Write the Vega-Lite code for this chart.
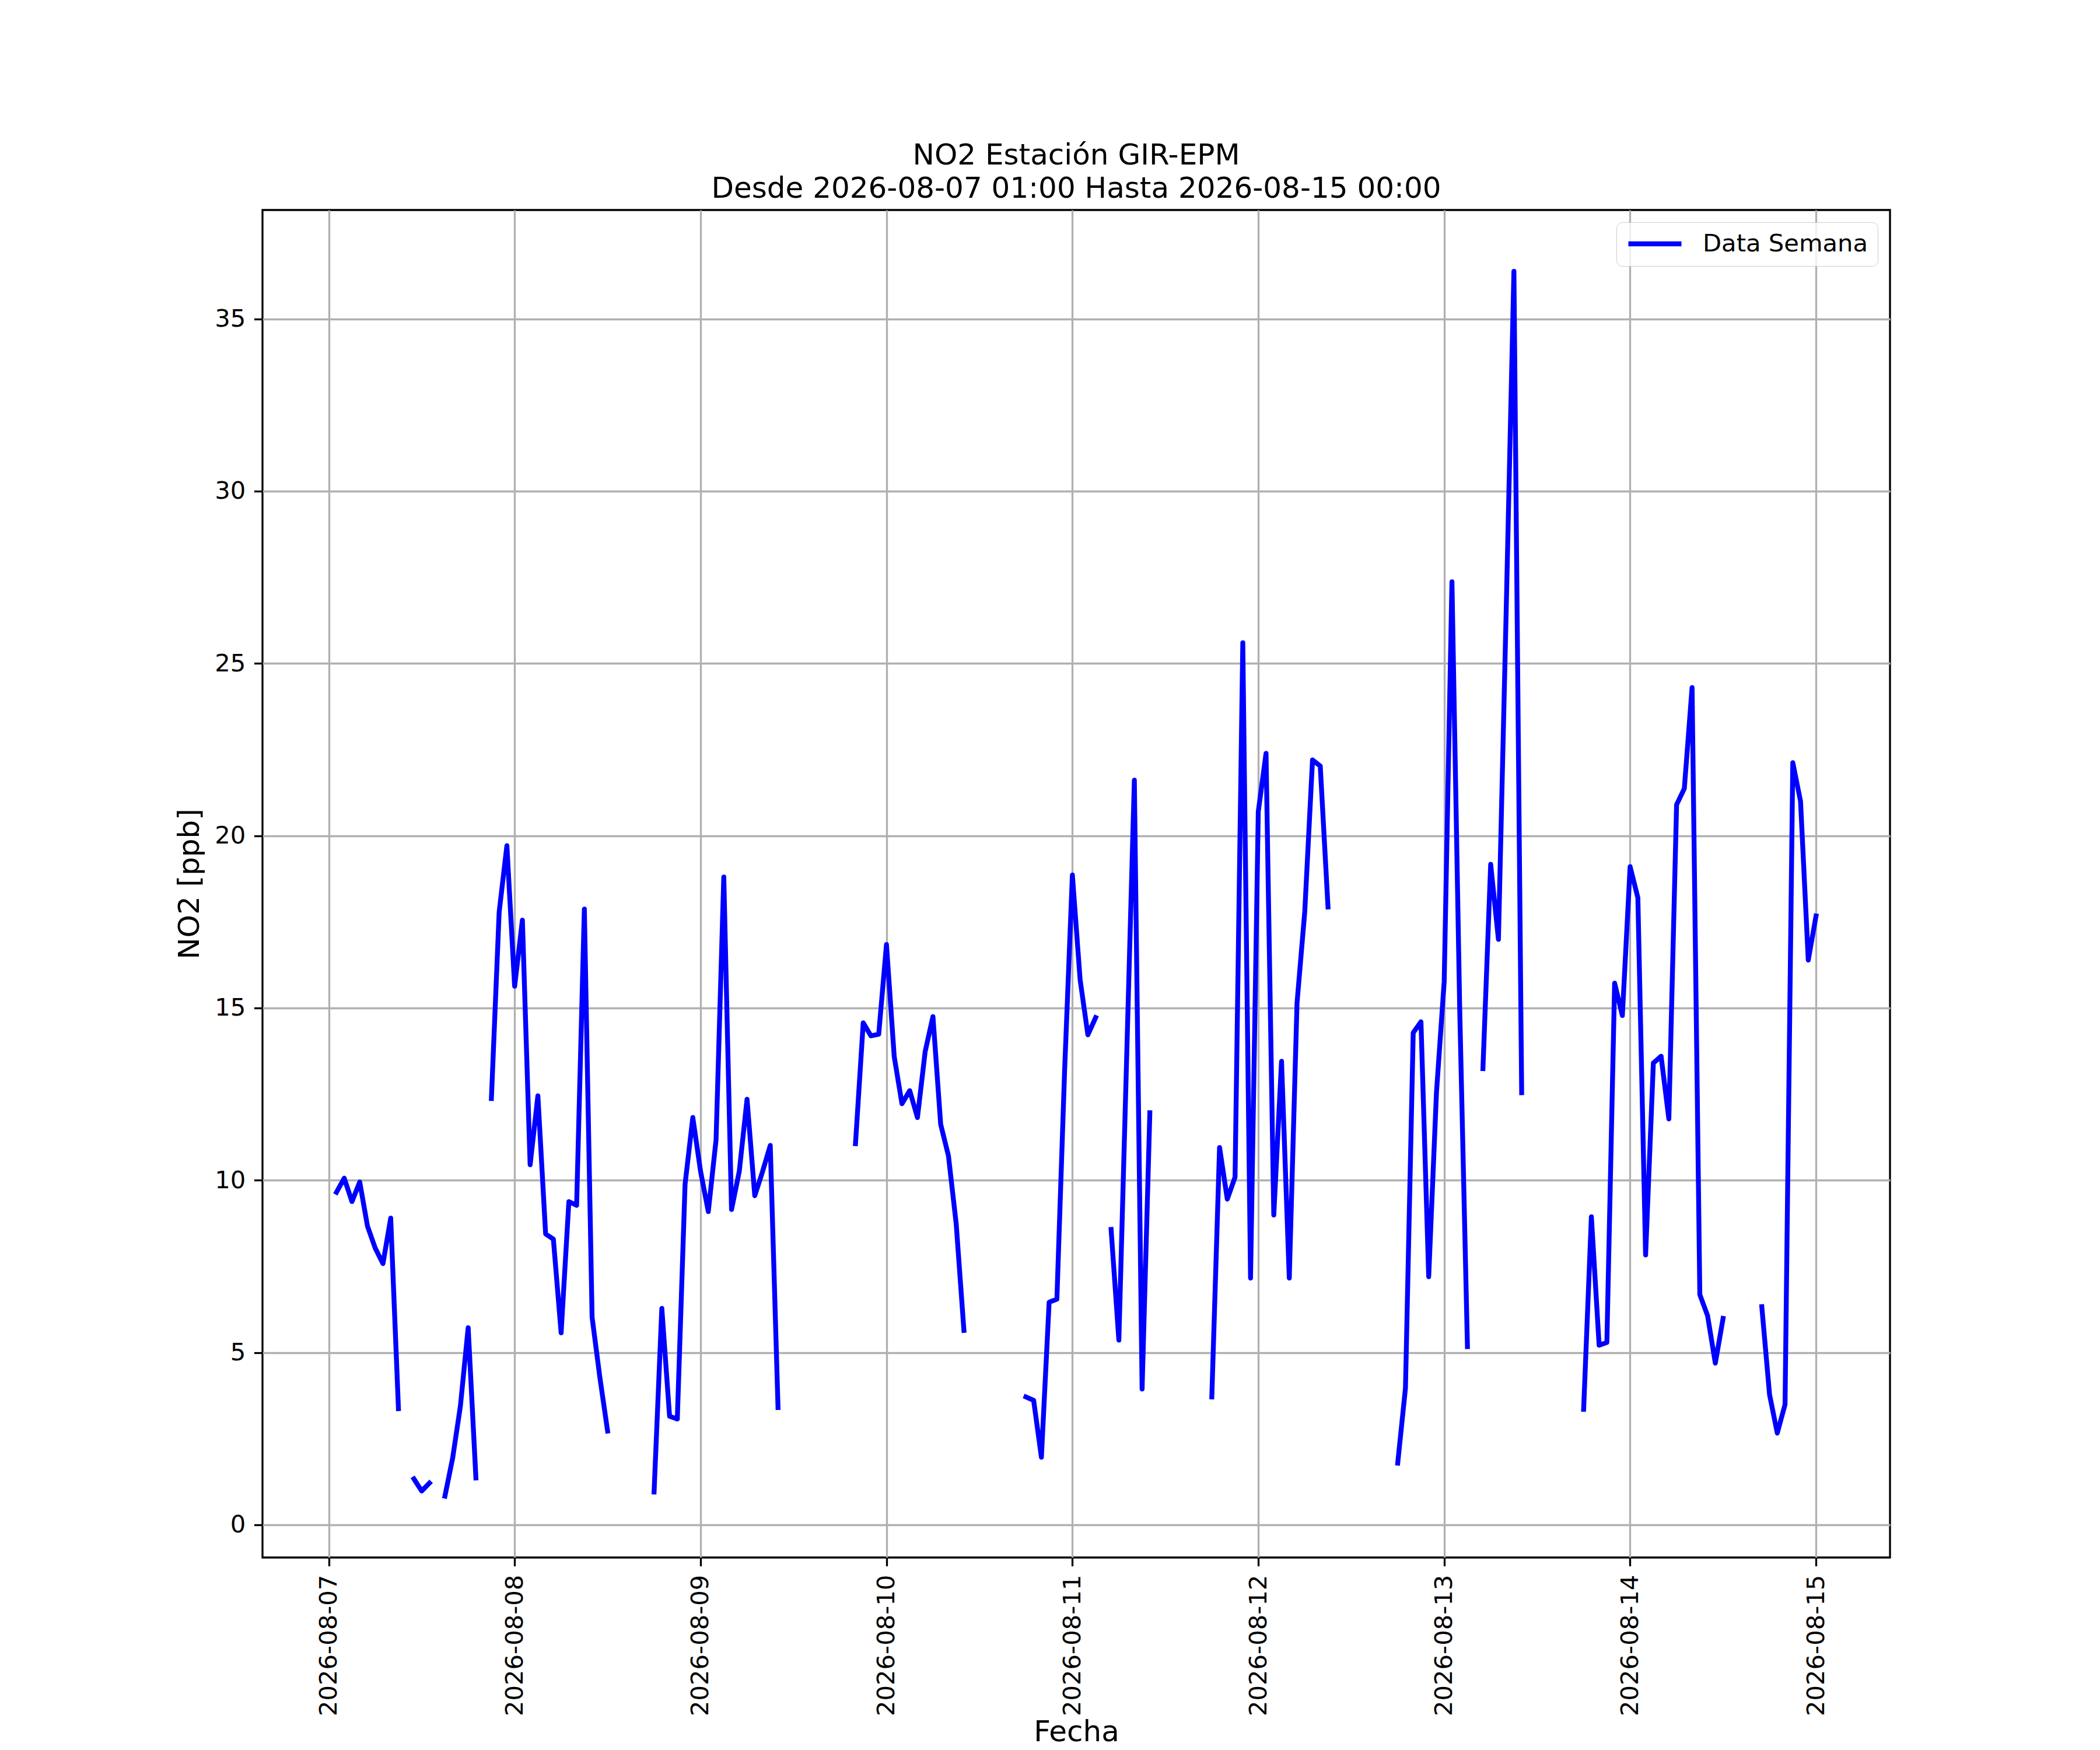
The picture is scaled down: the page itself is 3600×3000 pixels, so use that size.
{
  "$schema": "https://vega.github.io/schema/vega-lite/v6.json",
  "autosize": {"type": "none"},
  "width": 2790,
  "height": 2310,
  "padding": {"left": 450, "top": 360, "right": 360, "bottom": 330},
  "background": "white",
  "title": {
    "text": ["NO2 Estación GIR-EPM", "Desde 2026-08-07 01:00 Hasta 2026-08-15 00:00"],
    "anchor": "middle",
    "offset": 11,
    "lineHeight": 57
  },
  "config": {
    "font": "DejaVu Sans",
    "view": {"stroke": "black", "strokeWidth": 3.3},
    "title": {"font": "DejaVu Sans", "fontSize": 50, "fontWeight": "normal", "color": "black"},
    "axis": {
      "labelFont": "DejaVu Sans", "labelFontSize": 41.7, "labelColor": "black", "labelLimit": 0,
      "titleFont": "DejaVu Sans", "titleFontSize": 50, "titleFontWeight": "normal", "titleColor": "black",
      "tickColor": "black", "tickSize": 14.6, "tickWidth": 3.3, "labelPadding": 14.6,
      "gridColor": "#b0b0b0", "gridWidth": 3.3, "domain": false
    }
  },
  "data": {
    "values": [
      {"t": "2026-08-07 01:00", "no2": 9.65},
      {"t": "2026-08-07 02:00", "no2": 10.06},
      {"t": "2026-08-07 03:00", "no2": 9.38},
      {"t": "2026-08-07 04:00", "no2": 9.95},
      {"t": "2026-08-07 05:00", "no2": 8.67},
      {"t": "2026-08-07 06:00", "no2": 8.03},
      {"t": "2026-08-07 07:00", "no2": 7.58},
      {"t": "2026-08-07 08:00", "no2": 8.9},
      {"t": "2026-08-07 09:00", "no2": 3.37},
      {"t": "2026-08-07 10:00", "no2": null},
      {"t": "2026-08-07 11:00", "no2": 1.33},
      {"t": "2026-08-07 12:00", "no2": 0.98},
      {"t": "2026-08-07 13:00", "no2": 1.21},
      {"t": "2026-08-07 14:00", "no2": null},
      {"t": "2026-08-07 15:00", "no2": 0.83},
      {"t": "2026-08-07 16:00", "no2": 1.94},
      {"t": "2026-08-07 17:00", "no2": 3.45},
      {"t": "2026-08-07 18:00", "no2": 5.72},
      {"t": "2026-08-07 19:00", "no2": 1.36},
      {"t": "2026-08-07 20:00", "no2": null},
      {"t": "2026-08-07 21:00", "no2": 12.37},
      {"t": "2026-08-07 22:00", "no2": 17.78},
      {"t": "2026-08-07 23:00", "no2": 19.71},
      {"t": "2026-08-08 00:00", "no2": 15.63},
      {"t": "2026-08-08 01:00", "no2": 17.55},
      {"t": "2026-08-08 02:00", "no2": 10.45},
      {"t": "2026-08-08 03:00", "no2": 12.45},
      {"t": "2026-08-08 04:00", "no2": 8.44},
      {"t": "2026-08-08 05:00", "no2": 8.29},
      {"t": "2026-08-08 06:00", "no2": 5.57},
      {"t": "2026-08-08 07:00", "no2": 9.38},
      {"t": "2026-08-08 08:00", "no2": 9.27},
      {"t": "2026-08-08 09:00", "no2": 17.87},
      {"t": "2026-08-08 10:00", "no2": 6.02},
      {"t": "2026-08-08 11:00", "no2": 4.28},
      {"t": "2026-08-08 12:00", "no2": 2.72},
      {"t": "2026-08-08 13:00", "no2": null},
      {"t": "2026-08-08 14:00", "no2": null},
      {"t": "2026-08-08 15:00", "no2": null},
      {"t": "2026-08-08 16:00", "no2": null},
      {"t": "2026-08-08 17:00", "no2": null},
      {"t": "2026-08-08 18:00", "no2": 0.95},
      {"t": "2026-08-08 19:00", "no2": 6.28},
      {"t": "2026-08-08 20:00", "no2": 3.15},
      {"t": "2026-08-08 21:00", "no2": 3.07},
      {"t": "2026-08-08 22:00", "no2": 9.88},
      {"t": "2026-08-08 23:00", "no2": 11.82},
      {"t": "2026-08-09 00:00", "no2": 10.26},
      {"t": "2026-08-09 01:00", "no2": 9.09},
      {"t": "2026-08-09 02:00", "no2": 11.17},
      {"t": "2026-08-09 03:00", "no2": 18.8},
      {"t": "2026-08-09 04:00", "no2": 9.15},
      {"t": "2026-08-09 05:00", "no2": 10.26},
      {"t": "2026-08-09 06:00", "no2": 12.35},
      {"t": "2026-08-09 07:00", "no2": 9.55},
      {"t": "2026-08-09 08:00", "no2": 10.25},
      {"t": "2026-08-09 09:00", "no2": 11.01},
      {"t": "2026-08-09 10:00", "no2": 3.4},
      {"t": "2026-08-09 11:00", "no2": null},
      {"t": "2026-08-09 12:00", "no2": null},
      {"t": "2026-08-09 13:00", "no2": null},
      {"t": "2026-08-09 14:00", "no2": null},
      {"t": "2026-08-09 15:00", "no2": null},
      {"t": "2026-08-09 16:00", "no2": null},
      {"t": "2026-08-09 17:00", "no2": null},
      {"t": "2026-08-09 18:00", "no2": null},
      {"t": "2026-08-09 19:00", "no2": null},
      {"t": "2026-08-09 20:00", "no2": 11.06},
      {"t": "2026-08-09 21:00", "no2": 14.57},
      {"t": "2026-08-09 22:00", "no2": 14.19},
      {"t": "2026-08-09 23:00", "no2": 14.24},
      {"t": "2026-08-10 00:00", "no2": 16.84},
      {"t": "2026-08-10 01:00", "no2": 13.59},
      {"t": "2026-08-10 02:00", "no2": 12.22},
      {"t": "2026-08-10 03:00", "no2": 12.6},
      {"t": "2026-08-10 04:00", "no2": 11.82},
      {"t": "2026-08-10 05:00", "no2": 13.74},
      {"t": "2026-08-10 06:00", "no2": 14.75},
      {"t": "2026-08-10 07:00", "no2": 11.62},
      {"t": "2026-08-10 08:00", "no2": 10.71},
      {"t": "2026-08-10 09:00", "no2": 8.74},
      {"t": "2026-08-10 10:00", "no2": 5.64},
      {"t": "2026-08-10 11:00", "no2": null},
      {"t": "2026-08-10 12:00", "no2": null},
      {"t": "2026-08-10 13:00", "no2": null},
      {"t": "2026-08-10 14:00", "no2": null},
      {"t": "2026-08-10 15:00", "no2": null},
      {"t": "2026-08-10 16:00", "no2": null},
      {"t": "2026-08-10 17:00", "no2": null},
      {"t": "2026-08-10 18:00", "no2": 3.71},
      {"t": "2026-08-10 19:00", "no2": 3.61},
      {"t": "2026-08-10 20:00", "no2": 1.96},
      {"t": "2026-08-10 21:00", "no2": 6.46},
      {"t": "2026-08-10 22:00", "no2": 6.55},
      {"t": "2026-08-10 23:00", "no2": 13.2},
      {"t": "2026-08-11 00:00", "no2": 18.86},
      {"t": "2026-08-11 01:00", "no2": 15.82},
      {"t": "2026-08-11 02:00", "no2": 14.22},
      {"t": "2026-08-11 03:00", "no2": 14.72},
      {"t": "2026-08-11 04:00", "no2": null},
      {"t": "2026-08-11 05:00", "no2": 8.57},
      {"t": "2026-08-11 06:00", "no2": 5.36},
      {"t": "2026-08-11 07:00", "no2": 13.5},
      {"t": "2026-08-11 08:00", "no2": 21.61},
      {"t": "2026-08-11 09:00", "no2": 3.94},
      {"t": "2026-08-11 10:00", "no2": 11.96},
      {"t": "2026-08-11 11:00", "no2": null},
      {"t": "2026-08-11 12:00", "no2": null},
      {"t": "2026-08-11 13:00", "no2": null},
      {"t": "2026-08-11 14:00", "no2": null},
      {"t": "2026-08-11 15:00", "no2": null},
      {"t": "2026-08-11 16:00", "no2": null},
      {"t": "2026-08-11 17:00", "no2": null},
      {"t": "2026-08-11 18:00", "no2": 3.71},
      {"t": "2026-08-11 19:00", "no2": 10.95},
      {"t": "2026-08-11 20:00", "no2": 9.45},
      {"t": "2026-08-11 21:00", "no2": 10.09},
      {"t": "2026-08-11 22:00", "no2": 25.6},
      {"t": "2026-08-11 23:00", "no2": 7.16},
      {"t": "2026-08-12 00:00", "no2": 20.7},
      {"t": "2026-08-12 01:00", "no2": 22.39},
      {"t": "2026-08-12 02:00", "no2": 8.99},
      {"t": "2026-08-12 03:00", "no2": 13.45},
      {"t": "2026-08-12 04:00", "no2": 7.16},
      {"t": "2026-08-12 05:00", "no2": 15.14},
      {"t": "2026-08-12 06:00", "no2": 17.8},
      {"t": "2026-08-12 07:00", "no2": 22.2},
      {"t": "2026-08-12 08:00", "no2": 22.02},
      {"t": "2026-08-12 09:00", "no2": 17.93},
      {"t": "2026-08-12 10:00", "no2": null},
      {"t": "2026-08-12 11:00", "no2": null},
      {"t": "2026-08-12 12:00", "no2": null},
      {"t": "2026-08-12 13:00", "no2": null},
      {"t": "2026-08-12 14:00", "no2": null},
      {"t": "2026-08-12 15:00", "no2": null},
      {"t": "2026-08-12 16:00", "no2": null},
      {"t": "2026-08-12 17:00", "no2": null},
      {"t": "2026-08-12 18:00", "no2": 1.79},
      {"t": "2026-08-12 19:00", "no2": 3.97},
      {"t": "2026-08-12 20:00", "no2": 14.28},
      {"t": "2026-08-12 21:00", "no2": 14.6},
      {"t": "2026-08-12 22:00", "no2": 7.2},
      {"t": "2026-08-12 23:00", "no2": 12.54},
      {"t": "2026-08-13 00:00", "no2": 15.77},
      {"t": "2026-08-13 01:00", "no2": 27.37},
      {"t": "2026-08-13 02:00", "no2": 15.0},
      {"t": "2026-08-13 03:00", "no2": 5.17},
      {"t": "2026-08-13 04:00", "no2": null},
      {"t": "2026-08-13 05:00", "no2": 13.24},
      {"t": "2026-08-13 06:00", "no2": 19.17},
      {"t": "2026-08-13 07:00", "no2": 16.99},
      {"t": "2026-08-13 08:00", "no2": 26.5},
      {"t": "2026-08-13 09:00", "no2": 36.38},
      {"t": "2026-08-13 10:00", "no2": 12.54},
      {"t": "2026-08-13 11:00", "no2": null},
      {"t": "2026-08-13 12:00", "no2": null},
      {"t": "2026-08-13 13:00", "no2": null},
      {"t": "2026-08-13 14:00", "no2": null},
      {"t": "2026-08-13 15:00", "no2": null},
      {"t": "2026-08-13 16:00", "no2": null},
      {"t": "2026-08-13 17:00", "no2": null},
      {"t": "2026-08-13 18:00", "no2": 3.35},
      {"t": "2026-08-13 19:00", "no2": 8.94},
      {"t": "2026-08-13 20:00", "no2": 5.21},
      {"t": "2026-08-13 21:00", "no2": 5.29},
      {"t": "2026-08-13 22:00", "no2": 15.72},
      {"t": "2026-08-13 23:00", "no2": 14.78},
      {"t": "2026-08-14 00:00", "no2": 19.1},
      {"t": "2026-08-14 01:00", "no2": 18.2},
      {"t": "2026-08-14 02:00", "no2": 7.83},
      {"t": "2026-08-14 03:00", "no2": 13.4},
      {"t": "2026-08-14 04:00", "no2": 13.6},
      {"t": "2026-08-14 05:00", "no2": 11.78},
      {"t": "2026-08-14 06:00", "no2": 20.9},
      {"t": "2026-08-14 07:00", "no2": 21.37},
      {"t": "2026-08-14 08:00", "no2": 24.3},
      {"t": "2026-08-14 09:00", "no2": 6.68},
      {"t": "2026-08-14 10:00", "no2": 6.07},
      {"t": "2026-08-14 11:00", "no2": 4.69},
      {"t": "2026-08-14 12:00", "no2": 5.99},
      {"t": "2026-08-14 13:00", "no2": null},
      {"t": "2026-08-14 14:00", "no2": null},
      {"t": "2026-08-14 15:00", "no2": null},
      {"t": "2026-08-14 16:00", "no2": null},
      {"t": "2026-08-14 17:00", "no2": 6.33},
      {"t": "2026-08-14 18:00", "no2": 3.78},
      {"t": "2026-08-14 19:00", "no2": 2.66},
      {"t": "2026-08-14 20:00", "no2": 3.49},
      {"t": "2026-08-14 21:00", "no2": 22.12},
      {"t": "2026-08-14 22:00", "no2": 21.0},
      {"t": "2026-08-14 23:00", "no2": 16.39},
      {"t": "2026-08-15 00:00", "no2": 17.67}
    ]
  },
  "mark": {
    "type": "line",
    "strokeWidth": 8.33,
    "strokeCap": "square",
    "strokeJoin": "round",
    "invalid": "break-paths-show-domains"
  },
  "encoding": {
    "x": {
      "field": "t",
      "type": "temporal",
      "title": "Fecha",
      "scale": {
        "nice": false,
        "domain": [
          {"year": 2026, "month": 8, "date": 6, "hours": 15, "minutes": 27},
          {"year": 2026, "month": 8, "date": 15, "hours": 9, "minutes": 33}
        ]
      },
      "axis": {
        "format": "%Y-%m-%d",
        "tickCount": {"interval": "day", "step": 1},
        "labelAngle": -90,
        "labelOverlap": false,
        "labelFlush": false,
        "titleY": 314,
        "titleBaseline": "alphabetic"
      }
    },
    "y": {
      "field": "no2",
      "type": "quantitative",
      "title": "NO2 [ppb]",
      "scale": {"domain": [-0.95, 38.16], "nice": false, "zero": false},
      "axis": {"values": [0, 5, 10, 15, 20, 25, 30, 35], "titlePadding": 17}
    },
    "color": {
      "datum": "Data Semana",
      "type": "nominal",
      "scale": {"range": ["#0000ff"]},
      "legend": {
        "title": null,
        "orient": "top-right",
        "offset": 21,
        "padding": 16,
        "clipHeight": 42,
        "symbolType": "stroke",
        "symbolSize": 8281,
        "symbolStrokeWidth": 8.33,
        "labelFont": "DejaVu Sans",
        "labelFontSize": 41.7,
        "labelColor": "black",
        "labelLimit": 0,
        "labelOffset": 32,
        "strokeColor": "#cccccc",
        "fillColor": "rgba(255,255,255,0.8)",
        "cornerRadius": 10
      }
    }
  }
}
